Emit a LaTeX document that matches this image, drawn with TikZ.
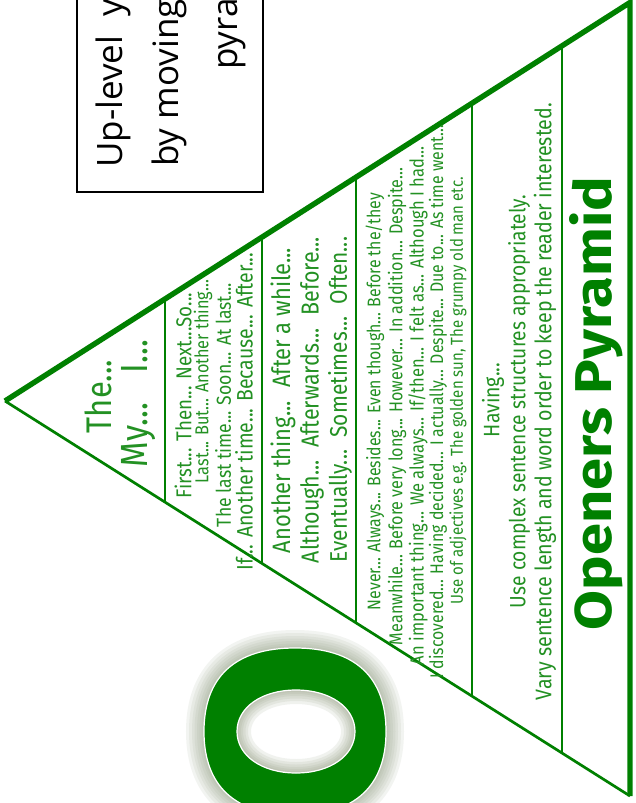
\documentclass[tikz,border=0pt]{standalone}
\usepackage{fontspec}
\usepackage{graphicx}
\setmainfont{Fira Sans}
\newfontfamily\boxfont{Open Sans}
\usetikzlibrary{calc}
\definecolor{lgreen}{RGB}{0,128,0}
\definecolor{tgreen}{RGB}{35,145,35}
\definecolor{glowc}{RGB}{145,156,128}
\newcommand{\fitw}[2]{\scalebox{1}[1.15]{\resizebox{#1pt}{!}{#2}}}
\newcommand{\fitwh}[3]{\resizebox{#1pt}{#2pt}{#3}}
\begin{document}
\begin{tikzpicture}[x=1pt,y=-1pt,
  txt/.style={rotate=90, inner sep=0pt, text=tgreen, anchor=center},
  ttl/.style={rotate=90, inner sep=0pt, text=lgreen, anchor=center, font=\bfseries},
  boxtxt/.style={rotate=90, inner sep=0pt, anchor=base west, text=black, font=\boxfont\fontsize{35}{40}\selectfont},
  thinedge/.style={draw=lgreen, line width=2.7pt},
  divider/.style={draw=lgreen, line width=2.6pt},
  thickedge/.style={draw=lgreen, line width=5.4pt, line join=miter}]
\useasboundingbox (0,0) rectangle (635,803);
\fill[white] (0,0) rectangle (635,803);
\clip (0,0) rectangle (635,803);

% ---------- title box (cut by the top edge) ----------
\coordinate (bx1) at (77,-20);
\coordinate (bx2) at (263,192);
\draw[black, line width=2pt] (bx1) rectangle (bx2);
\node[boxtxt] (up1) at (122,168) {Up-level\hspace{0.55em}y};
\node[boxtxt] (up2) at (178,167) {by moving};
\node[boxtxt] (up3) at (237,70) {pyra};

% ---------- the big O ----------
\path[save path=\ringouter] (386,731.5) .. controls (386,677.2) and (355.2,648) .. (295,648)
  .. controls (234.8,648) and (204,677.2) .. (204,731.5)
  .. controls (204,785.8) and (234.8,815) .. (295,815)
  .. controls (355.2,815) and (386,785.8) .. (386,731.5) -- cycle;
\path[save path=\ringinner] (355,731.5) .. controls (355,707.4) and (330.2,690) .. (296,690)
  .. controls (261.8,690) and (237,707.4) .. (237,731.5)
  .. controls (237,755.6) and (261.8,773) .. (296,773)
  .. controls (330.2,773) and (355,755.6) .. (355,731.5) -- cycle;
\foreach \w in {36,30,24,19,14,9,5}
  \draw[glowc, opacity=0.11, line width=\w pt, use path=\ringouter];
\fill[lgreen, use path=\ringouter];
\fill[white, use path=\ringinner];
\begin{scope}
  \clip[use path=\ringinner];
  \foreach \w in {28,22,17,12,8,4}
    \draw[glowc, opacity=0.13, line width=\w pt, use path=\ringinner];
\end{scope}
\draw[white, line width=1.2pt, use path=\ringouter];
\draw[white, line width=1.2pt, use path=\ringinner];

% ---------- pyramid ----------
\coordinate (A) at (5,401);
\coordinate (T) at (630,2.5);
\coordinate (B) at (630,796);
\draw[thinedge] (A) -- (B);
\draw[thickedge] (A) -- (T) -- (B);
\foreach \n/\f in {1/0.256,2/0.4112,3/0.5616,4/0.7472,5/0.8912}{
  \coordinate (d\n t) at ($(A)!\f!(T)$);
  \coordinate (d\n b) at ($(A)!\f!(B)$);
  \draw[divider] (d\n t) -- (d\n b);
}

% ---------- level 1 ----------
\node[txt] (l1a) at (98.5,396.5) {\fitw{73}{The...}};
\node[txt] (l1b) at (139,403.5) {\fitw{127}{My...\hspace{0.9em}I...}};

% ---------- level 2 ----------
\node[txt] (l2a) at (183,395.5) {\fitw{205}{First... Then... Next...So...}};
\node[txt] (l2b) at (203,381.5) {\fitw{203}{Last... But... Another thing...}};
\node[txt] (l2c) at (223,405) {\fitw{244}{The last time... Soon... At last...}};
\node[txt] (l2d) at (244,411.5) {\fitw{317}{If... Another time... Because... After...}};

% ---------- level 3 ----------
\node[txt] (l3a) at (283,400.5) {\fitw{305}{Another thing...\hspace{0.6em}After a while...}};
\node[txt] (l3b) at (312,400) {\fitw{326}{Although...\hspace{0.6em}Afterwards...\hspace{0.6em}Before...}};
\node[txt] (l3c) at (340,399.5) {\fitw{325}{Eventually...\hspace{0.6em}Sometimes...\hspace{0.6em}Often...}};

% ---------- level 4 ----------
\node[txt] (l4a) at (375,401.5) {\fitw{417}{Never... Always... Besides... Even though... Before the/they}};
\node[txt] (l4b) at (397,406.5) {\fitw{477}{Meanwhile... Before very long... However... In addition... Despite...}};
\node[txt] (l4c) at (418,406) {\fitw{518}{An important thing... We always... If/then... I felt as... Although I had...}};
\node[txt] (l4d) at (438,401.5) {\fitw{553}{I discovered... Having decided... I actually... Despite... Due to... As time went...}};
\node[txt] (l4e) at (458,390.5) {\fitw{427}{Use of adjectives e.g. The golden sun, The grumpy old man etc.}};

% ---------- level 5 ----------
\node[txt] (l5a) at (493,400) {\fitw{74}{Having...}};
\node[txt] (l5b) at (519,401.5) {\fitw{413}{Use complex sentence structures appropriately.}};
\node[txt] (l5c) at (545,401.5) {\fitw{597}{Vary sentence length and word order to keep the reader interested.}};

% ---------- title ----------
\node[ttl] (title) at (596,403.5) {\fitwh{453}{42}{Openers Pyramid}};
\end{tikzpicture}
\end{document}
